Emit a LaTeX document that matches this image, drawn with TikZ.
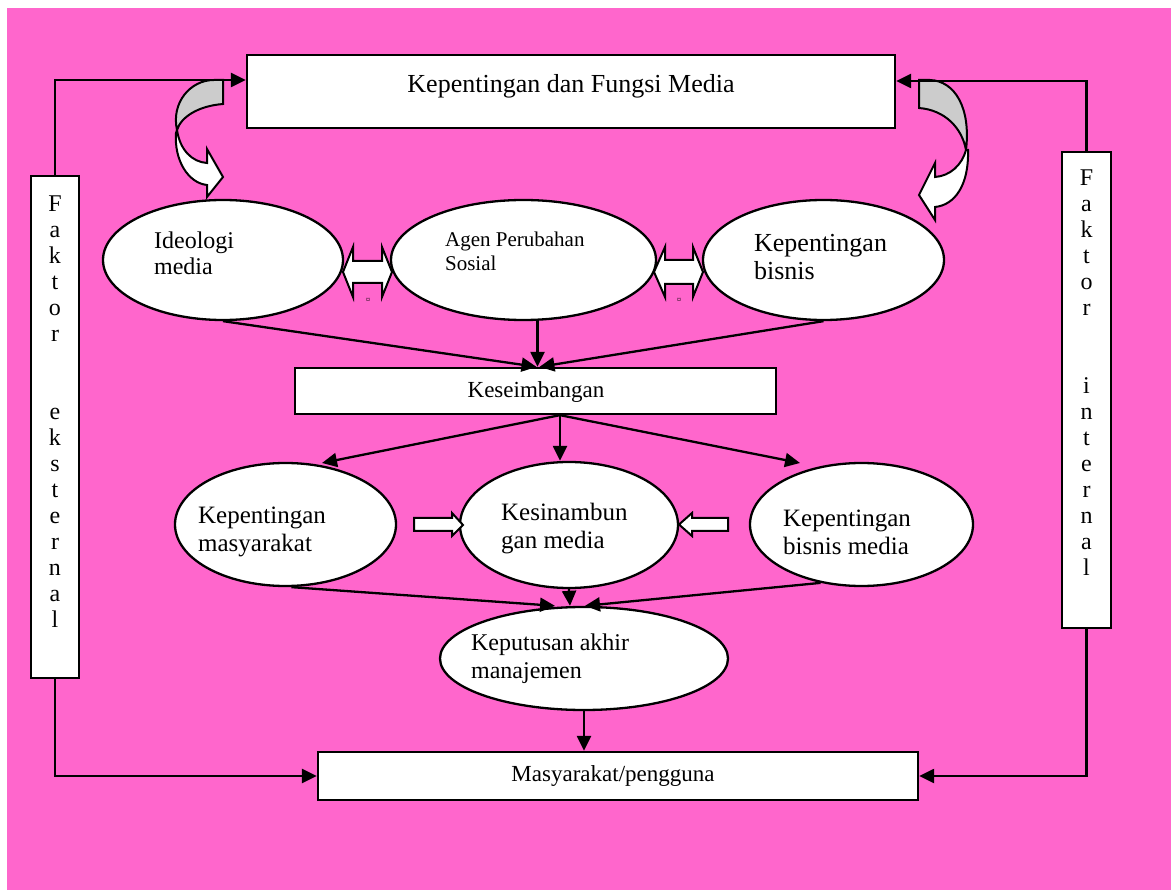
\documentclass[tikz,border=0pt]{standalone}
\usepackage{fontspec}
\setmainfont{Liberation Serif}
\usetikzlibrary{shapes.geometric,arrows.meta}
\definecolor{bgpink}{RGB}{255,102,204}
\definecolor{bandgray}{RGB}{204,204,204}
\begin{document}
\begin{tikzpicture}[x=1pt,y=-1pt,line width=2.3pt,
  box/.style={draw,fill=white,rectangle,inner sep=0pt},
  oval/.style={draw,fill=white,ellipse,inner sep=0pt},
  conn/.style={-{Triangle[length=15pt,width=14pt]},line width=2.3pt},
  lbl/.style={font=\fontsize{24}{25.5}\selectfont,align=left,inner sep=0pt},
  vlbl/.style={font=\fontsize{24}{26}\selectfont,align=center,inner sep=0pt},
  blk/.style={draw,fill=white,line width=2pt,line join=miter},
  tinymark/.style={font=\fontsize{8}{8}\selectfont,inner sep=0pt}]
\useasboundingbox (0,0) rectangle (1171,890);
\fill[white] (0,0) rectangle (1171,890);
\fill[bgpink] (7,8) rectangle (1171,890);

% top box
\node[box,minimum width=648pt,minimum height=73pt] (top) at (571,91.5) {};
\node[lbl,font=\fontsize{26}{30}\selectfont] (toptxt) at (571,86) {Kepentingan dan Fungsi Media};

% side boxes
\node[box,minimum width=48pt,minimum height=502pt] (lbox) at (55,427) {};
\node[vlbl] (ltxt) at (55,412) {F\\a\\k\\t\\o\\r\\[52pt]e\\k\\s\\t\\e\\r\\n\\a\\l};
\node[box,minimum width=49pt,minimum height=476pt] (rbox) at (1086.5,390) {};
\node[vlbl] (rtxt) at (1086.5,373) {F\\a\\k\\t\\o\\r\\[52pt]i\\n\\t\\e\\r\\n\\a\\l};

% curved arrows
\filldraw[fill=bandgray,line width=2pt] (214,80) -- (223,80) -- (223,104)
  .. controls (198,106) and (181,117) .. (177,130)
  .. controls (171,103) and (190,80) .. (214,80) -- cycle;
\filldraw[fill=white,line width=2pt] (177,130)
  .. controls (180,150) and (192,162) .. (207,163) -- (207,149) -- (223,177)
  -- (207,197) -- (207,185)
  .. controls (188,183) and (174,160) .. (176,133) -- cycle;
\filldraw[fill=bandgray,line width=2pt] (930,80) -- (919,80) -- (919,108)
  .. controls (945,110) and (962,128) .. (966,150)
  .. controls (971,108) and (955,81) .. (930,80) -- cycle;
\filldraw[fill=white,line width=2pt] (966,150)
  .. controls (962,165) and (950,176) .. (935,177) -- (935,163) -- (919,195)
  -- (935,220) -- (935,207)
  .. controls (955,205) and (969,185) .. (968,150) -- cycle;

% side connectors
\draw[conn] (lbox.north) |- ([yshift=11.5pt]top.west);
\draw[conn] (rbox.north) |- ([yshift=10.5pt]top.east);

% row 1 ellipses
\node[oval,minimum width=240pt,minimum height=120pt] (ideo) at (223,260) {};
\node[lbl,anchor=west] (ideotxt) at (153,253.5) {Ideologi\\media};
\node[oval,minimum width=265pt,minimum height=120pt] (agen) at (523.5,260) {};
\node[lbl,anchor=west,font=\fontsize{21}{24}\selectfont] (agentxt) at (444,251) {Agen Perubahan\\Sosial};
\node[oval,minimum width=241pt,minimum height=120pt] (bis) at (823.5,260) {};
\node[lbl,anchor=west,font=\fontsize{26}{28.5}\selectfont] (bistxt) at (753,257) {Kepentingan\\bisnis};

% double block arrows
\filldraw[blk] (343,272) -- (353,247) -- (353,261) -- (382,261) -- (382,247) -- (392,272)
  -- (382,297) -- (382,283) -- (353,283) -- (353,297) -- cycle;
\node[tinymark] (m1) at (368,300) {¤};
\filldraw[blk] (654,272) -- (665,247) -- (665,260) -- (693,260) -- (693,247) -- (703,272)
  -- (693,297) -- (693,284) -- (665,284) -- (665,297) -- cycle;
\node[tinymark] (m2) at (679,300) {¤};

% Keseimbangan
\node[box,minimum width=481pt,minimum height=46pt] (kes) at (535.5,391) {};
\node[lbl,font=\fontsize{23}{26}\selectfont] (kestxt) at (536,392) {Keseimbangan};
\draw[conn] (ideo.south) -- ([xshift=1pt]kes.north);
\draw[conn] ([xshift=14pt]agen.south) -- ([xshift=2pt]kes.north);
\draw[conn] (bis.south) -- ([xshift=4pt]kes.north);

% row 2 ellipses
\node[oval,minimum width=221pt,minimum height=123pt] (mas) at (285.5,524.5) {};
\node[lbl,anchor=west,font=\fontsize{25}{28}\selectfont] (mastxt) at (197,532) {Kepentingan\\masyarakat};
\node[oval,minimum width=218pt,minimum height=126pt] (ksn) at (569,525) {};
\node[lbl,anchor=west,font=\fontsize{25}{28}\selectfont] (ksntxt) at (500,529) {Kesinambun\\gan media};
\node[oval,minimum width=223pt,minimum height=123pt] (bm) at (861.5,524.5) {};
\node[lbl,anchor=west,font=\fontsize{25}{28}\selectfont] (bmtxt) at (782,532) {Kepentingan\\bisnis media};

\coordinate (t1) at (322,463);
\coordinate (t3) at (800,463);
\draw[conn] ([xshift=24.5pt]kes.south) -- (t1);
\draw[conn] ([xshift=24.5pt]kes.south) -- ([xshift=24.5pt]kes.south |- ksn.north);
\draw[conn] ([xshift=24.5pt]kes.south) -- (t3);

% small block arrows
\filldraw[blk] (414,518) -- (452,518) -- (452,513) -- (463,525) -- (452,536) -- (452,531) -- (414,531) -- cycle;
\filldraw[blk] (728,518) -- (692,518) -- (692,513) -- (679,524.5) -- (692,536) -- (692,531) -- (728,531) -- cycle;

% Keputusan
\node[oval,minimum width=288pt,minimum height=103pt] (kep) at (584,658.5) {};
\node[lbl,anchor=west,font=\fontsize{24}{28}\selectfont] (keptxt) at (470,659) {Keputusan akhir\\manajemen};
\draw[conn] ([xshift=6pt]mas.south) -- ([xshift=-29pt]kep.north);
\draw[conn] (ksn.south) -- ([xshift=-14pt]kep.north);
\draw[conn] (bm.235) -- ([xshift=1pt]kep.north);

% Masyarakat/pengguna
\node[box,minimum width=600pt,minimum height=48pt] (pgn) at (618,776) {};
\node[lbl,font=\fontsize{23}{26}\selectfont] (pgntxt) at (613,776) {Masyarakat/pengguna};
\draw[conn] (kep.south) -- (kep.south |- pgn.north);
\draw[conn] (lbox.south) |- (pgn.west);
\draw[conn] (rbox.south) |- (pgn.east);
\end{tikzpicture}
\end{document}
